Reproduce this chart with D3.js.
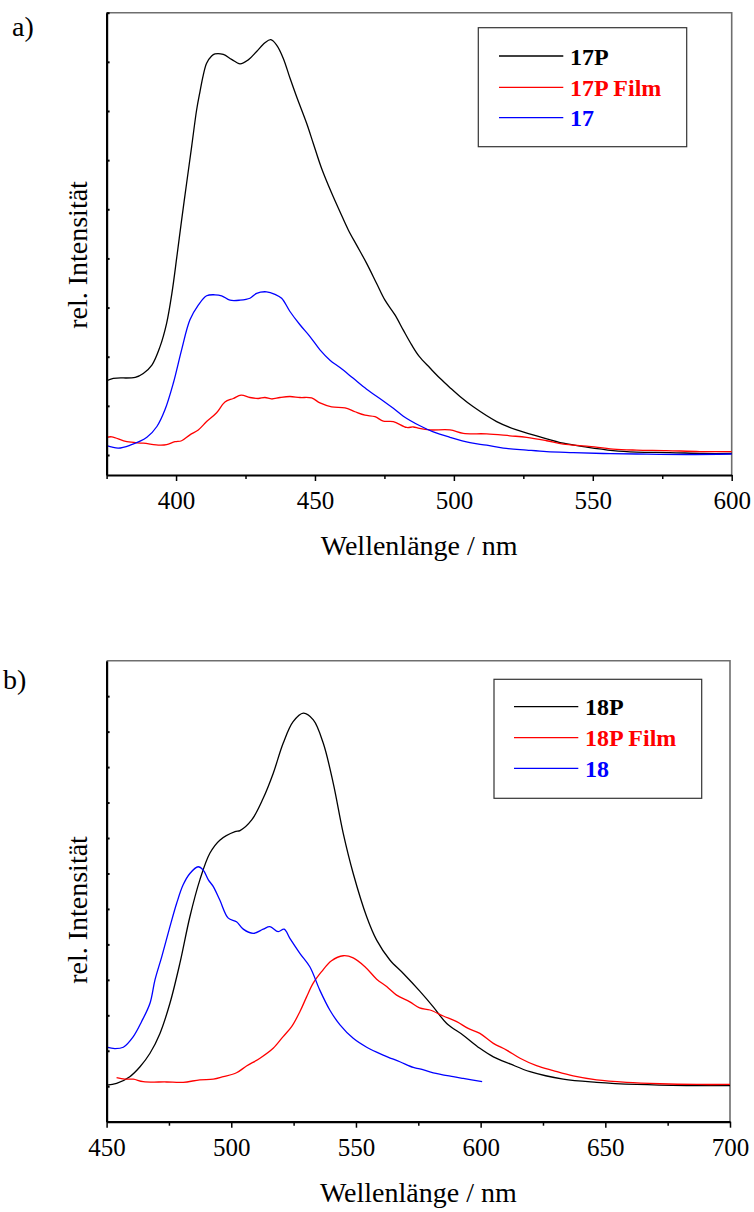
<!DOCTYPE html>
<html>
<head>
<meta charset="utf-8">
<script src="https://cdn.jsdelivr.net/npm/d3@7"></script>
<style>
  html, body { margin: 0; padding: 0; background: #fff; }
  svg { display: block; }
</style>
</head>
<body>
<svg id="chart" width="754" height="1212"></svg>
<script>
// ---- Panel a): emission spectra of 17P (solution), 17P film and 17 ----
const wavelengthTicksA = [400, 450, 500, 550, 600];
const wavelengthMinorA = [375, 425, 475, 525, 575];
const intensityTicksA = [0, 1, 2, 3, 4, 5, 6, 7, 8, 9];

const spec17P = [
  [375, 1.51], [377.4, 1.56], [385.3, 1.58], [388.2, 1.66], [391.3, 1.83], [394.2, 2.20],
  [396.6, 2.68], [398.5, 3.29], [400.3, 4.04], [402.0, 4.78], [403.8, 5.53], [405.6, 6.27],
  [407.4, 7.02], [408.6, 7.39], [409.8, 7.73], [411.0, 7.97], [412.8, 8.12], [414.0, 8.16],
  [417.0, 8.15], [420.0, 8.05],
  [423.0, 7.96], [426.0, 8.04], [429.0, 8.21], [432.0, 8.39], [434.1, 8.45], [436.2, 8.34],
  [438.6, 8.07], [441.0, 7.67], [443.4, 7.29], [447.0, 6.75], [449.4, 6.34], [452.4, 5.83],
  [456.0, 5.33], [459.0, 4.95], [462.0, 4.58], [465.0, 4.27], [468.6, 3.90], [472.2, 3.49],
  [475.2, 3.15], [478.8, 2.85], [481.8, 2.54], [484.8, 2.24], [487.6, 2.00], [491.4, 1.77],
  [495.0, 1.56], [498.6, 1.37], [502.2, 1.19], [507.0, 0.98], [515.4, 0.68], [522.6, 0.51],
  [531.0, 0.37], [539.4, 0.24], [547.8, 0.16], [557.3, 0.09], [565.7, 0.06], [577.7, 0.05],
  [589.7, 0.03], [600, 0.03]
];

const spec17PFilm = [
  [375, 0.36], [376.9, 0.37], [382.3, 0.27], [388.2, 0.24], [394.2, 0.20], [396.6, 0.21],
  [399.6, 0.27], [402.0, 0.29], [405.0, 0.41], [408.0, 0.51], [411.0, 0.68], [414.6, 0.86],
  [417.6, 1.08], [420.6, 1.15], [423.4, 1.22], [426.6, 1.17], [429.6, 1.15], [432.0, 1.17],
  [434.4, 1.14], [437.4, 1.17], [441.0, 1.19], [444.6, 1.17], [448.8, 1.16], [451.8, 1.06],
  [456.0, 0.98], [460.8, 0.96], [464.4, 0.88], [468.0, 0.81], [471.6, 0.78], [474.6, 0.69],
  [478.2, 0.68], [483.0, 0.56], [485.4, 0.57], [487.6, 0.54], [491.4, 0.51], [498.6, 0.51],
  [503.4, 0.44], [511.8, 0.43], [520.2, 0.39], [526.2, 0.36], [533.4, 0.29], [539.4, 0.22],
  [547.8, 0.18], [557.3, 0.12], [565.7, 0.10], [576.5, 0.09], [588.5, 0.07], [600, 0.07]
];

const spec17 = [
  [375, 0.19], [379.2, 0.14], [383.5, 0.20], [389.5, 0.36], [393.1, 0.58], [396.0, 0.92],
  [399.0, 1.46], [402.0, 2.14], [405.0, 2.75], [408.0, 3.05], [411.0, 3.24], [414.0, 3.26],
  [416.4, 3.24], [419.4, 3.15], [423.0, 3.15], [426.6, 3.19], [429.0, 3.29], [432.6, 3.32],
  [435.6, 3.27], [438.0, 3.19], [441.0, 2.92], [444.6, 2.65], [448.2, 2.41], [451.8, 2.14],
  [455.4, 1.93], [459.0, 1.78], [463.8, 1.56], [468.6, 1.34], [474.6, 1.10], [478.2, 0.95],
  [481.8, 0.79], [487.6, 0.60], [492.6, 0.47], [498.6, 0.36], [505.8, 0.25], [511.8, 0.20],
  [517.8, 0.14], [526.2, 0.10], [533.4, 0.07], [543.0, 0.05], [553.8, 0.03], [565.8, 0.02],
  [583.8, 0.01], [600, 0.02]
];

// ---- Panel b): emission spectra of 18P (solution), 18P film and 18 ----
const wavelengthTicksB = [450, 500, 550, 600, 650, 700];
const wavelengthMinorB = [475, 525, 575, 625, 675];
const intensityTicksB = [1, 2, 3, 4, 5, 6, 7, 8, 9, 10, 11, 12];

const spec18P = [
  [450, 1.03], [454.0, 1.08], [459.3, 1.27], [463.4, 1.55], [467.4, 1.93], [471.4, 2.49],
  [475.4, 3.34], [479.4, 4.47], [483.4, 5.78], [487.4, 6.82], [491.4, 7.57], [495.4, 7.94],
  [501.5, 8.18], [503.5, 8.21], [508.2, 8.51], [512.8, 9.12], [516.8, 9.82], [520.8, 10.67],
  [524.8, 11.28], [528.9, 11.52], [532.9, 11.33], [536.9, 10.67], [540.9, 9.54], [544.9, 8.13],
  [548.9, 7.00], [554.3, 5.78], [558.3, 5.12], [563.6, 4.56], [569.0, 4.18], [575.5, 3.69],
  [581.0, 3.24], [586.4, 2.77], [593.0, 2.44], [599.7, 2.07], [605.1, 1.83], [611.8, 1.63],
  [619.8, 1.41], [633.1, 1.20], [646.5, 1.11], [662.6, 1.05], [682.6, 1.02], [700, 1.02]
];

const spec18PFilm = [
  [454.0, 1.24], [457.3, 1.20], [460.7, 1.20], [464.7, 1.13], [474.1, 1.12], [480.7, 1.11],
  [487.4, 1.18], [492.8, 1.20], [496.8, 1.27], [502.1, 1.38], [506.1, 1.57], [511.5, 1.79],
  [516.8, 2.07], [520.8, 2.40], [524.2, 2.68], [527.5, 3.10], [530.2, 3.52], [532.8, 3.90],
  [536.2, 4.23], [540.2, 4.54], [544.9, 4.68], [548.9, 4.62], [553.6, 4.37], [558.3, 4.02],
  [562.3, 3.81], [566.3, 3.57], [571.6, 3.38], [575.5, 3.21], [579.7, 3.15], [585.0, 2.98],
  [590.4, 2.82], [595.0, 2.63], [599.7, 2.49], [605.1, 2.21], [610.4, 2.02], [615.8, 1.79],
  [622.4, 1.58], [629.1, 1.44], [637.1, 1.29], [646.5, 1.18], [658.5, 1.11], [671.9, 1.07],
  [686.6, 1.05], [700, 1.05]
];

const spec18 = [
  [450, 2.10], [453.3, 2.06], [456.7, 2.10], [460.7, 2.40], [464.0, 2.82], [467.4, 3.34],
  [469.4, 4.00], [472.1, 4.65], [475.4, 5.50], [478.1, 6.16], [480.7, 6.68], [483.4, 7.00],
  [486.7, 7.19], [488.7, 7.10], [490.8, 6.82], [492.8, 6.63], [495.4, 6.25], [498.8, 5.74],
  [502.1, 5.64], [504.8, 5.43], [508.8, 5.31], [512.8, 5.43], [515.5, 5.50], [518.8, 5.36],
  [521.2, 5.43], [523.5, 5.17], [527.5, 4.75], [531.5, 4.37], [535.5, 3.71], [539.5, 3.15],
  [543.6, 2.73], [548.9, 2.35], [554.3, 2.10], [560.9, 1.88], [567.6, 1.69], [573.0, 1.53],
  [575.6, 1.49], [581.0, 1.38], [589.0, 1.27], [593.0, 1.22], [600.6, 1.13]
];

const legendA = ["17P", "17P Film", "17"];
const legendB = ["18P", "18P Film", "18"];
const seriesColors = ["#000000", "#ff0000", "#0000ff"];

const FONT = '"Liberation Serif", "Times New Roman", Times, serif';
const svg = d3.select("#chart");

function drawPanel(cfg) {
  const x = d3.scaleLinear().domain(cfg.xDomain).range([cfg.left, cfg.right]);
  const y = d3.scaleLinear().domain(cfg.yDomain).range([cfg.bottom, cfg.top]);
  const g = svg.append("g");

  // frame: top and right edges in grey
  g.append("path")
    .attr("d", `M${cfg.left},${cfg.top}H${cfg.right}V${cfg.bottom}`)
    .attr("fill", "none").attr("stroke", "#6e6e6e").attr("stroke-width", 1.6);

  // spectra
  const line = d3.line()
    .x(d => x(d[0])).y(d => y(d[1]))
    .curve(d3.curveCatmullRom.alpha(0.5));
  cfg.series.forEach((s, i) => {
    g.append("path").datum(s)
      .attr("fill", "none")
      .attr("stroke", seriesColors[i])
      .attr("stroke-width", 1.3)
      .attr("stroke-linejoin", "round")
      .attr("d", line);
  });

  // left axis with small inward ticks, no labels
  const yAxis = g.append("g").attr("transform", `translate(${cfg.left},0)`)
    .call(d3.axisLeft(y).tickValues(cfg.yTicks).tickSize(-3).tickSizeOuter(0).tickFormat(""));
  yAxis.select(".domain").attr("stroke", "#000").attr("stroke-width", 2.2);
  yAxis.selectAll(".tick line").attr("stroke", "#000").attr("stroke-width", 2);

  // bottom axis: minor ticks, then major ticks with labels
  const minor = g.append("g").attr("transform", `translate(0,${cfg.bottom})`)
    .call(d3.axisBottom(x).tickValues(cfg.xMinor).tickSize(4).tickSizeOuter(0).tickFormat(""));
  minor.select(".domain").remove();
  minor.selectAll(".tick line").attr("stroke", "#000").attr("stroke-width", 1.5);

  const xAxis = g.append("g").attr("transform", `translate(0,${cfg.bottom})`)
    .call(d3.axisBottom(x).tickValues(cfg.xTicks).tickSize(6).tickSizeOuter(0).tickFormat(d3.format("d")));
  xAxis.select(".domain").attr("stroke", "#000").attr("stroke-width", 2.2);
  xAxis.selectAll(".tick line").attr("stroke", "#000").attr("stroke-width", 1.5);
  xAxis.selectAll(".tick text")
    .attr("y", 34).attr("dy", null)
    .attr("fill", "#000")
    .style("font-family", FONT).style("font-size", "25px");

  // axis titles
  g.append("text")
    .attr("x", (cfg.left + cfg.right) / 2).attr("y", cfg.bottom + 80)
    .attr("text-anchor", "middle")
    .style("font-family", FONT).style("font-size", "28px")
    .text("Wellenlänge / nm");
  g.append("text")
    .attr("transform", `translate(87,${cfg.yTitleCenter}) rotate(-90)`)
    .attr("text-anchor", "middle")
    .style("font-family", FONT).style("font-size", "28px")
    .text("rel. Intensität");

  // panel letter
  g.append("text")
    .attr("x", cfg.letterX).attr("y", cfg.letterY)
    .style("font-family", FONT).style("font-size", "28px")
    .text(cfg.letter);

  // legend box
  const L = cfg.legend;
  g.append("rect")
    .attr("x", L.x0).attr("y", L.y0)
    .attr("width", L.x1 - L.x0).attr("height", L.y1 - L.y0)
    .attr("fill", "#fff").attr("stroke", "#333").attr("stroke-width", 1.2);
  cfg.legendLabels.forEach((lab, i) => {
    const ly = L.rowY[i];
    g.append("line")
      .attr("x1", L.lineX0).attr("x2", L.lineX1)
      .attr("y1", ly).attr("y2", ly)
      .attr("stroke", seriesColors[i]).attr("stroke-width", 1.3);
    g.append("text")
      .attr("x", L.textX).attr("y", ly + 8.5)
      .attr("fill", seriesColors[i])
      .style("font-family", FONT).style("font-size", "24px").style("font-weight", "bold")
      .text(lab);
  });
}

drawPanel({
  letter: "a)", letterX: 12, letterY: 36,
  left: 106.6, right: 731.7, top: 12.7, bottom: 475,
  xDomain: [375, 600], yDomain: [-0.407, 9],
  xTicks: wavelengthTicksA, xMinor: wavelengthMinorA, yTicks: intensityTicksA,
  yTitleCenter: 255,
  series: [spec17P, spec17PFilm, spec17],
  legendLabels: legendA,
  legend: { x0: 478.3, y0: 27.7, x1: 686.7, y1: 146.7, lineX0: 499, lineX1: 563.3,
            textX: 570, rowY: [56, 87.3, 117.7] }
});

drawPanel({
  letter: "b)", letterX: 3, letterY: 689,
  left: 106.6, right: 730, top: 660.7, bottom: 1121.7,
  xDomain: [450, 700], yDomain: [0, 13],
  xTicks: wavelengthTicksB, xMinor: wavelengthMinorB, yTicks: intensityTicksB,
  yTitleCenter: 910,
  series: [spec18P, spec18PFilm, spec18],
  legendLabels: legendB,
  legend: { x0: 494, y0: 679.3, x1: 701.7, y1: 798.3, lineX0: 514, lineX1: 578.3,
            textX: 585, rowY: [706.7, 737.7, 768.3] }
});
</script>
</body>
</html>
